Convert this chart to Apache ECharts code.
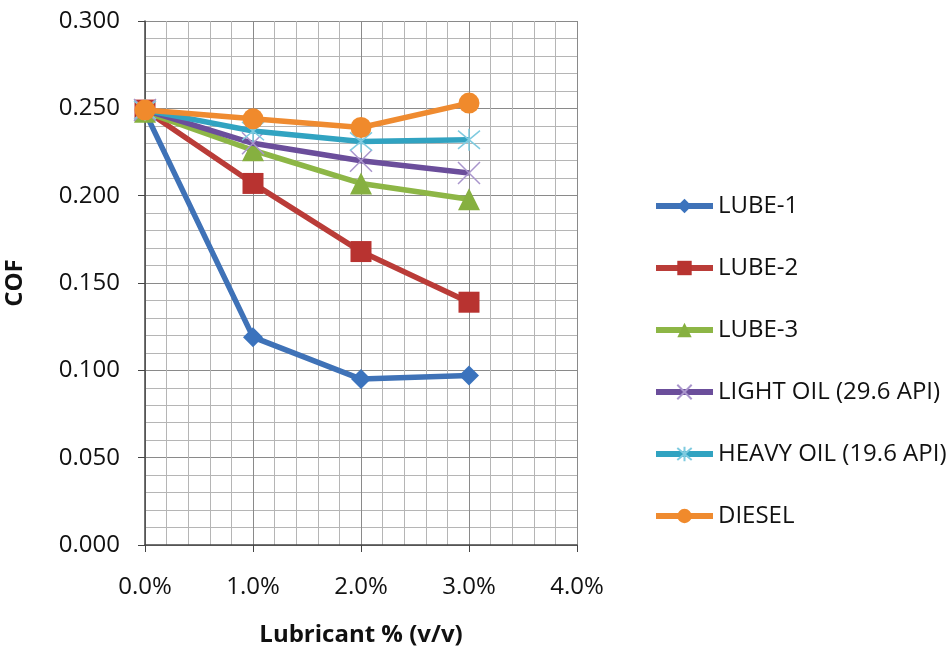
<!DOCTYPE html>
<html>
<head>
<meta charset="utf-8">
<script src="https://cdn.jsdelivr.net/npm/echarts@6/dist/echarts.min.js"></script>
<style>html,body{margin:0;padding:0;background:#fff;}#c{width:952px;height:663px;}</style>
</head>
<body>
<div id="c"></div>
<script>
const xValues = [0, 1, 2, 3];
const seriesNames = ['LUBE-1', 'LUBE-2', 'LUBE-3', 'LIGHT OIL (29.6 API)', 'HEAVY OIL (19.6 API)', 'DIESEL'];
const lube1 = [0.248, 0.119, 0.095, 0.097];
const lube2 = [0.249, 0.207, 0.168, 0.139];
const lube3 = [0.248, 0.226, 0.207, 0.198];
const lightOil = [0.249, 0.230, 0.220, 0.213];
const heavyOil = [0.249, 0.237, 0.231, 0.232];
const diesel = [0.249, 0.244, 0.239, 0.253];
const xTicks = { min: 0, max: 4, interval: 1 };
const yTicks = { min: 0, max: 0.3, interval: 0.05 };

const FONT = "'Open Sans', sans-serif";
const colors = ['#3F72B7', '#BA3C38', '#8DB646', '#6B4E9B', '#31A3C1', '#EF8B30'];
const markerColors = ['#3B73BD', '#B83330', '#86B040', '#A995CC', '#7FCBE0', '#F08A2C'];
const symbols = ['diamond', 'rect', 'triangle',
  'path://M0,0L10,10M0,10L10,0',
  'path://M0,0L10,10M0,10L10,0M5,-1L5,11',
  'circle'];
const sizes = [20, 21, 22, 22, 22, 21];
const allData = [lube1, lube2, lube3, lightOil, heavyOil, diesel];

const series = seriesNames.map((name, i) => {
  const isPath = symbols[i].startsWith('path://');
  return {
    name: name,
    type: 'line',
    data: xValues.map((x, k) => [x, allData[i][k]]),
    symbol: symbols[i],
    symbolSize: sizes[i],
    showAllSymbol: true,
    lineStyle: { color: colors[i], width: 5.5 },
    itemStyle: isPath
      ? { color: 'none', borderColor: markerColors[i], borderWidth: 1.5 }
      : { color: markerColors[i], borderColor: markerColors[i], borderWidth: 0 },
    emphasis: { disabled: true },
    z: 2 + i
  };
});

const chart = echarts.init(document.getElementById('c'), null, { renderer: 'canvas' });
chart.setOption({
  animation: false,
  backgroundColor: '#fff',
  grid: { left: 145, right: 375, top: 21, bottom: 118 },
  legend: {
    orient: 'vertical',
    left: 648,
    top: 187,
    itemWidth: 57,
    itemHeight: 18,
    itemGap: 34,
    lineStyle: { width: 6 },
    textStyle: { fontFamily: FONT, fontSize: 24, color: '#111', lineHeight: 28 },
    data: seriesNames
  },
  xAxis: {
    type: 'value',
    min: xTicks.min, max: xTicks.max, interval: xTicks.interval,
    name: 'Lubricant % (v/v)',
    nameLocation: 'middle',
    nameGap: 78,
    nameTextStyle: { fontFamily: FONT, fontSize: 24, fontWeight: 'bold', color: '#111' },
    axisLine: { lineStyle: { color: '#444', width: 1.5 } },
    axisTick: { show: true, length: 7, lineStyle: { color: '#444' } },
    axisLabel: { fontFamily: FONT, fontSize: 24, color: '#111', margin: 30,
      formatter: v => v.toFixed(1) + '%' },
    splitLine: { show: true, lineStyle: { color: '#8a8a8a', width: 1 } },
    minorTick: { show: false, splitNumber: 5 },
    minorSplitLine: { show: true, lineStyle: { color: '#b5b5b5', width: 1 } }
  },
  yAxis: {
    type: 'value',
    min: yTicks.min, max: yTicks.max, interval: yTicks.interval,
    name: 'COF',
    nameLocation: 'middle',
    nameGap: 118,
    nameRotate: 90,
    nameTextStyle: { fontFamily: FONT, fontSize: 24, fontWeight: 'bold', color: '#111' },
    axisLine: { show: true, lineStyle: { color: '#444', width: 1.5 } },
    axisTick: { show: true, length: 7, lineStyle: { color: '#444' } },
    axisLabel: { fontFamily: FONT, fontSize: 24, color: '#111', margin: 25,
      formatter: v => v.toFixed(3) },
    splitLine: { show: true, lineStyle: { color: '#8a8a8a', width: 1 } },
    minorTick: { show: false, splitNumber: 5 },
    minorSplitLine: { show: true, lineStyle: { color: '#b5b5b5', width: 1 } }
  },
  series: series
});
</script>
</body>
</html>
